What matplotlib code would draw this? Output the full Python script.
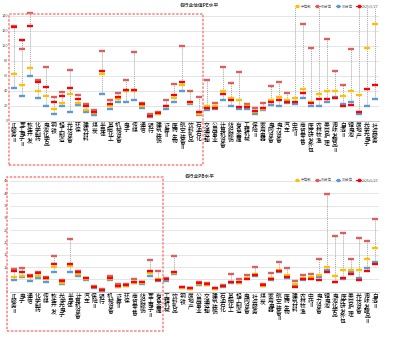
import matplotlib
matplotlib.use("Agg")
import matplotlib.pyplot as plt
from matplotlib.lines import Line2D
from matplotlib.patches import Rectangle

plt.rcParams['font.family'] = ['Noto Sans CJK SC', 'DejaVu Sans']

# ---------------- PE data ----------------
pe_industries = ["IT服务Ⅱ", "军工电子Ⅱ", "软件开发", "化学制药", "电池化学品", "钢铁", "轻工制造",
                 "光伏设备", "环保", "建筑材料", "煤炭", "半导体", "基础化工", "机械设备", "电子",
                 "传媒", "通信", "银行", "建筑装饰", "证券Ⅱ", "医药生物", "航空装备Ⅱ", "饮料乳品",
                 "石油石化", "交通运输", "公用事业", "计算机设备", "纺织服饰", "有色金属", "工程机械",
                 "保险Ⅱ", "家用电器", "电网设备", "电力设备", "汽车", "中药Ⅱ", "商贸零售",
                 "医疗研发外包", "农林牧渔", "美容护理", "调味发酵品Ⅱ", "白酒Ⅱ", "锂电池", "房地产",
                 "光学光电子", "社会服务"]
pe_p90 = [126, 96, 144, 54, 72, 32, 38, 67, 34, 22, 14, 93, 28, 37, 54, 91, 23, 8.5, 11, 27,
          48.5, 100, 40, 32, 54, 24, 71, 50, 65, 22, 16.5, 24, 46, 52, 37, 160, 128.5, 96.5,
          160, 109, 66, 48, 96, 160, 160, 160]
pe_median = [62, 48, 70, 40, 33, 15, 24, 36, 24, 14, 10, 62, 20, 29, 40, 40, 20, 6.3, 9.3, 19,
             30, 48, 24, 9, 19, 19, 40, 30, 28, 19, 12, 15, 28, 32, 27, 30, 42, 25,
             35, 39, 40, 33, 39, 34, 97, 128.5]
pe_p10 = [44, 33, 60, 30, 20, 9, 20, 12, 21, 11, 8, 35, 16, 25, 25, 28, 17, 5.3, 8.5, 16,
          25, 39, 22, 7.6, 14, 15, 27, 20, 15, 16, 9, 14, 21, 19, 23, 22, 30, 19,
          20, 25, 31, 22, 25, 9, 20, 28.5]
pe_current = [125, 107, 126, 51, 45, 25, 33, 44, 29, 20, 12, 66, 22, 32, 41, 41, 22, 6.7, 10, 20,
              34, 52, 25, 11, 17, 16.5, 36, 28, 18, 18, 13, 16.5, 25, 28, 25, 25, 37, 23,
              28.5, 28.5, 30, 19, 21, 12, 42, 48]
pe_ticks = [0, 20, 40, 60, 80, 100, 120, 140]

# ---------------- PB data ----------------
pb_industries = ["IT服务Ⅱ", "电子", "通信", "化学制药", "传媒", "软件开发", "光学光电子", "半导体",
                 "计算机设备", "汽车", "保险Ⅱ", "银行", "机械设备", "证券Ⅱ", "环保", "商贸零售",
                 "纺织服饰", "军工电子Ⅱ", "有色金属", "工程机械", "饮料乳品", "钢铁", "房地产",
                 "公用事业", "交通运输", "建筑装饰", "石油石化", "基础化工", "轻工制造", "电网设备",
                 "社会服务", "煤炭", "家用电器", "航空装备Ⅱ", "医药生物", "建筑材料", "农林牧渔",
                 "中药Ⅱ", "电力设备", "锂电池", "电池化学品", "医疗研发外包", "美容护理", "光伏设备",
                 "调味发酵品Ⅱ", "白酒Ⅱ"]
pb_p90 = [9.2, 9.8, 6.8, 7.9, 6.1, 14.6, 4.8, 21.4, 8.4, 5.7, 2.3, 1.1, 6.5, 3.0, 3.0, 5.2,
          4.1, 12.9, 8.4, 5.5, 14.6, 2.1, 1.7, 3.8, 3.4, 1.7, 2.7, 7.0, 5.2, 6.8, 10.2, 3.0,
          7.5, 12.0, 9.5, 4.4, 6.8, 7.0, 13.2, 39.6, 22.8, 23.8, 13.2, 21.7, 20.6, 29.6]
pb_median = [6.1, 6.5, 6.1, 6.5, 5.2, 10.2, 3.4, 10.6, 7.0, 5.2, 1.8, 0.6, 5.2, 2.0, 2.5, 3.6,
             3.6, 7.6, 5.0, 5.0, 7.5, 1.6, 1.2, 3.0, 2.9, 1.2, 2.2, 3.8, 3.6, 5.7, 7.0, 2.5,
             5.5, 8.8, 6.8, 3.0, 5.7, 6.1, 6.8, 10.2, 6.5, 8.8, 8.8, 8.8, 13.2, 17.9]
pb_p10 = [4.8, 5.8, 4.4, 5.4, 4.1, 8.2, 3.0, 8.2, 6.5, 4.8, 1.4, 0.4, 4.8, 1.8, 2.3, 3.4,
          3.3, 6.5, 4.4, 4.4, 7.0, 1.4, 1.1, 2.7, 2.7, 1.1, 2.0, 3.4, 3.5, 5.5, 6.5, 2.2,
          4.9, 7.9, 5.5, 2.5, 4.8, 5.5, 6.1, 8.8, 4.1, 5.2, 8.0, 5.6, 9.7, 12.2]
pb_current = [8.4, 8.2, 6.5, 7.5, 5.7, 11.2, 4.4, 11.2, 7.9, 5.5, 2.0, 0.7, 5.5, 2.5, 2.7, 3.8,
              3.8, 8.6, 4.8, 5.2, 7.9, 1.8, 1.4, 3.4, 3.0, 1.4, 2.3, 4.1, 3.8, 5.2, 6.8, 2.7,
              5.2, 8.4, 6.1, 2.1, 5.2, 5.2, 4.8, 8.0, 3.8, 5.7, 7.0, 4.8, 8.4, 11.2]
pb_ticks = [0, 5, 10, 15, 20, 25, 30, 35, 40, 45]

legend_labels = ["中位数", "90分位", "10分位", "2025/6/27"]
C_MED, C_P90, C_P10, C_CUR = "#FFC000", "#D9605E", "#5B9BD5", "#FF0000"

W, H = 402, 338
fig = plt.figure(figsize=(W / 100, H / 100), dpi=100)
fig.patch.set_facecolor("white")


def px_axes(left, top, right, bottom):
    return fig.add_axes([left / W, 1 - bottom / H, (right - left) / W, (bottom - top) / H])


def vertical_label(name):
    if name.startswith("IT"):
        return "\n".join(["IT"] + list(name[2:]))
    return "\n".join(name)


def draw_panel(ax, cats, p90, med, p10, cur, ticks, ymax, title, title_y, legend_y):
    x = list(range(len(cats)))
    lo = [min(a, b, c, d) for a, b, c, d in zip(p90, med, p10, cur)]
    hi = [max(a, b, c, d) for a, b, c, d in zip(p90, med, p10, cur)]
    ax.vlines(x, lo, hi, colors="#A6A6A6", linestyles=(0, (1, 1)), linewidth=0.7, zorder=2)
    mk = dict(marker="_", linestyle="none", markersize=4.2, markeredgewidth=1.7, zorder=3)
    ax.plot(x, p90, color=C_P90, **mk)
    ax.plot(x, p10, color=C_P10, **mk)
    ax.plot(x, med, color=C_MED, **mk)
    ax.plot(x, cur, color=C_CUR, **mk)

    ax.set_xlim(-0.5, len(cats) - 0.5)
    ax.set_ylim(0, ymax)
    ax.set_yticks(ticks)
    ax.set_yticklabels([str(t) for t in ticks], fontsize=2.8, color="#595959")
    ax.set_xticks(x)
    ax.set_xticklabels([vertical_label(c) for c in cats],
                       fontsize=4.2, linespacing=0.95, va="top", color="#000000")
    ax.tick_params(axis="both", length=0, pad=1.5)
    ax.grid(axis="y", color="#E0E0E0", linewidth=0.6)
    ax.set_axisbelow(True)
    for s in ("top", "right", "left"):
        ax.spines[s].set_visible(False)
    ax.spines["bottom"].set_color("#BFBFBF")
    ax.spines["bottom"].set_linewidth(0.6)

    fig.text(200 / W, 1 - title_y / H, title, fontsize=3.4, ha="center", va="center",
             color="#404040", fontweight="bold")
    handles = [Line2D([], [], color=c, marker="s", markersize=1.6, linewidth=0.8)
               for c in (C_MED, C_P90, C_P10, C_CUR)]
    fig.legend(handles, legend_labels, loc="center right",
               bbox_to_anchor=(382 / W, 1 - legend_y / H), ncol=4, frameon=False,
               fontsize=2.6, handlelength=1.2, handletextpad=0.4, columnspacing=1.0,
               labelcolor="#595959")


ax_pe = px_axes(10, 8.2, 379, 120.7)
draw_panel(ax_pe, pe_industries, pe_p90, pe_median, pe_p10, pe_current, pe_ticks, 150,
           "各行业估值PE水平", 5.5, 6.5)

ax_pb = px_axes(10, 181, 379, 291.7)
draw_panel(ax_pb, pb_industries, pb_p90, pb_median, pb_p10, pb_current, pb_ticks, 45,
           "各行业PB水平", 176, 180)

# dashed highlight frames
box_style = dict(fill=False, edgecolor="#FF7F7F", linewidth=1.1, linestyle=(0, (1.6, 1.0)),
                 transform=fig.transFigure, zorder=10)
for (x0, y0, x1, y1) in [(9.5, 14, 203, 165), (7, 177, 163, 331)]:
    fig.add_artist(Rectangle((x0 / W, 1 - y1 / H), (x1 - x0) / W, (y1 - y0) / H, **box_style))

fig.savefig("out.png", dpi=100)
